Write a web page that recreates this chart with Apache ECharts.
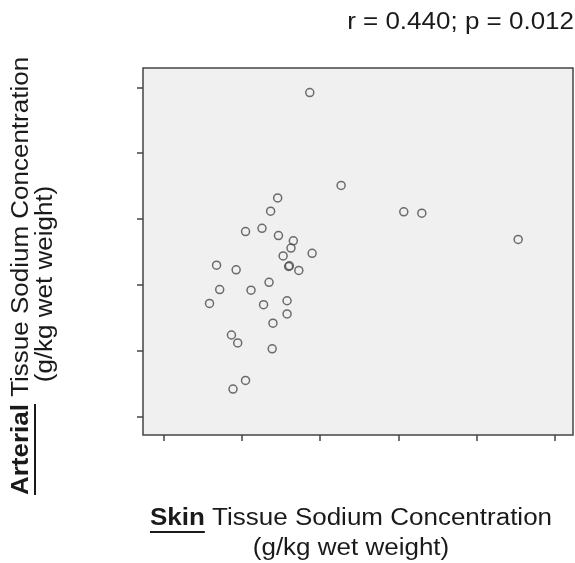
<!DOCTYPE html>
<html>
<head>
<meta charset="utf-8">
<script src="https://cdn.jsdelivr.net/npm/echarts@6/dist/echarts.min.js"></script>
<style>
  html, body { margin: 0; padding: 0; background: #fff; }
  #chart { width: 575px; height: 563px; }
</style>
</head>
<body>
<div id="chart"></div>
<script>
// tick positions (no labels are printed on the original)
const xTicks = [1, 2, 3, 4, 5, 6];
const yTicks = [1, 2, 3, 4, 5, 6];

// skin vs arterial tissue sodium (tick units)
const skinNa = [2.87, 3.27, 2.46, 2.37, 4.07, 4.30, 5.53, 2.05, 2.26, 2.47, 2.66,
  2.63, 2.53, 2.90, 2.60, 2.61, 2.73, 1.68, 1.93, 2.35, 1.72, 2.12, 1.59, 2.28,
  2.58, 2.58, 2.40, 1.87, 1.95, 2.39, 2.05, 1.89];
const arterialNa = [5.92, 4.51, 4.32, 4.12, 4.11, 4.09, 3.69, 3.81, 3.86, 3.75, 3.67,
  3.56, 3.44, 3.48, 3.28, 3.29, 3.22, 3.30, 3.23, 3.04, 2.93, 2.92, 2.72, 2.70,
  2.76, 2.56, 2.42, 2.24, 2.12, 2.03, 1.55, 1.42];

const statText = 'r = 0.440; p = 0.012';
const xTitleBold = 'Skin';
const xTitleRest = ' Tissue Sodium Concentration';
const yTitleBold = 'Arterial';
const yTitleRest = ' Tissue Sodium Concentration';
const unitText = '(g/kg wet weight)';

const FAMILY = '"Liberation Sans", Arial, sans-serif';
const FSIZE = 23;
const STRETCH = 1.13;
const TXT = '#1a1a1a';

// measure text so the underline sits exactly under the bold word
const ctx = document.createElement('canvas').getContext('2d');
function textWidth(str, bold) {
  ctx.font = (bold ? 'bold ' : '') + FSIZE + 'px ' + FAMILY;
  return ctx.measureText(str).width;
}

function titleLine(bold, rest, underlineY) {
  const wb = textWidth(bold, true);
  const wr = textWidth(rest, false);
  const x0 = -(wb + wr) / 2;
  return [
    { type: 'text', x: x0, y: 0, style: { text: bold, font: 'bold ' + FSIZE + 'px ' + FAMILY, fill: TXT, align: 'left', verticalAlign: 'middle' } },
    { type: 'text', x: x0 + wb, y: 0, style: { text: rest, font: FSIZE + 'px ' + FAMILY, fill: TXT, align: 'left', verticalAlign: 'middle' } },
    { type: 'rect', shape: { x: x0, y: underlineY, width: wb, height: 2 }, style: { fill: TXT } }
  ];
}

const chart = echarts.init(document.getElementById('chart'));

const option = {
  animation: false,
  backgroundColor: '#ffffff',
  grid: {
    show: true,
    left: 143,
    top: 68,
    width: 430,
    height: 367,
    backgroundColor: '#f0f0f0',
    borderColor: '#444',
    borderWidth: 1.5
  },
  xAxis: {
    type: 'value',
    min: 0.741,
    max: 6.23,
    axisLine: { show: false },
    axisTick: { show: true, length: 6, customValues: xTicks, lineStyle: { color: '#444', width: 1.5 } },
    axisLabel: { show: false },
    splitLine: { show: false }
  },
  yAxis: {
    type: 'value',
    min: 0.722,
    max: 6.293,
    axisLine: { show: false },
    axisTick: { show: true, length: 6, customValues: yTicks, lineStyle: { color: '#444', width: 1.5 } },
    axisLabel: { show: false },
    splitLine: { show: false }
  },
  series: [
    {
      type: 'scatter',
      symbol: 'circle',
      symbolSize: 8,
      data: skinNa.map((v, i) => [v, arterialNa[i]]),
      itemStyle: { color: 'rgba(0,0,0,0)', borderColor: '#4a4a4a', borderWidth: 1.5 },
      emphasis: { disabled: true }
    }
  ],
  graphic: [
    {
      type: 'group', x: 574, y: 23, scaleX: STRETCH,
      children: [
        { type: 'text', x: 0, y: 0, style: { text: statText, font: FSIZE + 'px ' + FAMILY, fill: TXT, align: 'right', verticalAlign: 'middle' } }
      ]
    },
    {
      type: 'group', x: 351, y: 519, scaleX: STRETCH,
      children: titleLine(xTitleBold, xTitleRest, 12)
    },
    {
      type: 'group', x: 351, y: 549, scaleX: STRETCH,
      children: [
        { type: 'text', x: 0, y: 0, style: { text: unitText, font: FSIZE + 'px ' + FAMILY, fill: TXT, align: 'center', verticalAlign: 'middle' } }
      ]
    },
    {
      type: 'group', x: 22, y: 276, rotation: Math.PI / 2, scaleX: STRETCH,
      children: titleLine(yTitleBold, yTitleRest, 12)
    },
    {
      type: 'group', x: 46, y: 284, rotation: Math.PI / 2, scaleX: STRETCH,
      children: [
        { type: 'text', x: 0, y: 0, style: { text: unitText, font: FSIZE + 'px ' + FAMILY, fill: TXT, align: 'center', verticalAlign: 'middle' } }
      ]
    }
  ]
};

chart.setOption(option);
</script>
</body>
</html>
